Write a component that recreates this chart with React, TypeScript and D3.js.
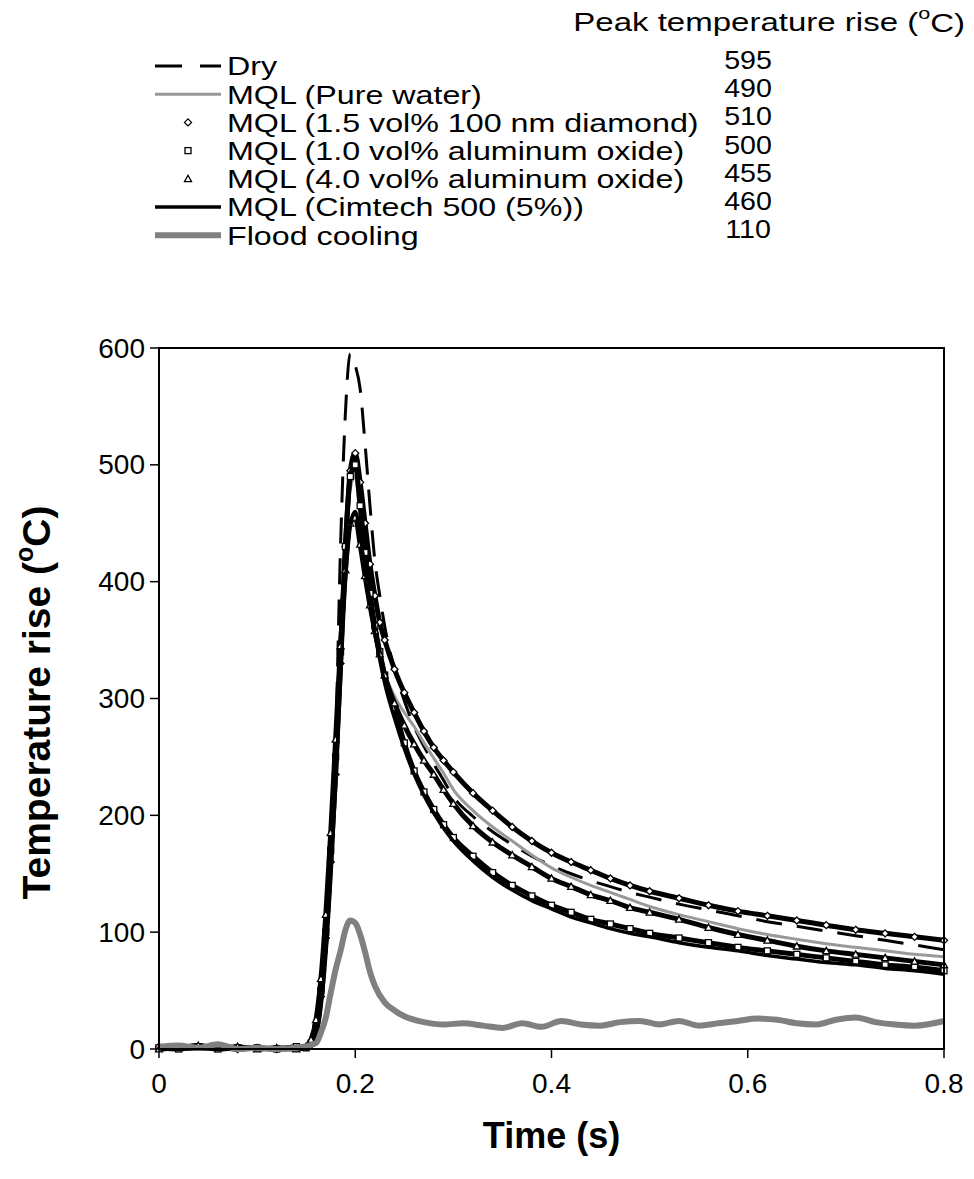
import React from "react";
import * as d3 from "d3";

// time samples (s), shared by the six MQL/dry curves
const times = [
  0, 0.02, 0.04, 0.06, 0.08, 0.1, 0.12, 0.14, 0.15, 0.155, 0.16, 0.165, 0.17, 0.175, 0.18, 0.185, 0.19, 0.195,
  0.2, 0.205, 0.21, 0.215, 0.22, 0.225, 0.23, 0.24, 0.25, 0.26, 0.27, 0.28, 0.29, 0.3, 0.32, 0.34, 0.36, 0.38,
  0.4, 0.42, 0.44, 0.46, 0.48, 0.5, 0.53, 0.56, 0.59, 0.62, 0.65, 0.68, 0.71, 0.74, 0.77, 0.8,
];

const dry = [
  0, 0, 1, 0, 1, 0, 0, 1, 2, 4, 12, 35, 80, 150, 260, 430, 545, 595,
  585, 565, 518, 465, 418, 388, 362, 325, 298, 276, 259, 244, 230, 216, 199, 186, 175, 165,
  157, 150, 144, 139, 134, 130, 124, 119, 114, 109, 105, 101, 97, 93, 89, 85,
];
const pureWater = [
  1, 2, 1, 3, 1, 0, 1, 0, 1, 3, 12, 40, 88, 155, 235, 330, 420, 480,
  490, 455, 418, 385, 358, 338, 322, 302, 288, 276, 262, 249, 236, 222, 204, 190, 178, 166,
  155, 147, 140, 134, 128, 122, 115, 109, 103, 98, 94, 90, 87, 84, 81, 79,
];
const diamond = [
  2, 1, 2, 1, 0, 1, 0, 1, 2, 4, 15, 45, 95, 160, 235, 330, 430, 495,
  510, 485, 450, 415, 388, 365, 350, 325, 305, 288, 272, 258, 247, 237, 219, 204, 190, 178,
  168, 160, 153, 146, 140, 135, 129, 123, 118, 114, 110, 106, 102, 99, 96, 93,
];
const alumina1 = [
  1, 0, 2, 0, 1, 1, 0, 2, 1, 5, 18, 50, 100, 170, 250, 340, 430, 490,
  500, 465, 425, 390, 362, 340, 320, 292, 262, 238, 220, 205, 192, 181, 165, 151, 140, 131,
  123, 117, 111, 107, 103, 99, 95, 91, 87, 84, 81, 78, 75, 72, 70, 67,
];
const alumina4 = [
  0, 1, 3, 1, 2, 0, 1, 0, 2, 8, 25, 60, 115, 185, 265, 345, 410, 450,
  455, 432, 405, 380, 358, 338, 320, 296, 277, 261, 247, 235, 222, 210, 191, 177, 166, 156,
  146, 139, 132, 127, 121, 117, 111, 104, 98, 93, 88, 84, 81, 78, 75, 72,
];
const cimtech = [
  0, 0, 0, 0, 0, 0, 0, 0, 0, 2, 10, 35, 80, 145, 225, 315, 400, 450,
  460, 440, 410, 380, 355, 333, 313, 283, 257, 235, 217, 202, 189, 178, 161, 147, 136, 127,
  120, 113, 108, 103, 99, 96, 91, 87, 84, 80, 77, 74, 72, 69, 67, 64,
];

const floodTimes = [
  0, 0.02, 0.04, 0.06, 0.08, 0.1, 0.12, 0.14, 0.16, 0.165, 0.17, 0.175, 0.18, 0.185, 0.19, 0.195, 0.2,
  0.205, 0.21, 0.215, 0.22, 0.23, 0.24, 0.25, 0.27, 0.29, 0.31, 0.33, 0.35, 0.37, 0.39, 0.41, 0.43, 0.45,
  0.47, 0.49, 0.51, 0.53, 0.55, 0.57, 0.59, 0.61, 0.63, 0.65, 0.67, 0.69, 0.71, 0.73, 0.75, 0.77, 0.8,
];
const flood = [
  2, 3, 1, 4, 0, 1, 0, 1, 5, 14, 27, 48, 68, 84, 102, 110, 108,
  98, 83, 66, 54, 40, 33, 28, 23, 21, 22, 20, 18, 22, 19, 24, 21, 20,
  23, 24, 21, 24, 20, 22, 24, 26, 25, 22, 21, 25, 27, 23, 21, 20, 24,
];

const seriesNames = [
  "Dry",
  "MQL (Pure water)",
  "MQL (1.5 vol% 100 nm diamond)",
  "MQL (1.0 vol% aluminum oxide)",
  "MQL (4.0 vol% aluminum oxide)",
  "MQL (Cimtech 500 (5%))",
  "Flood cooling",
];
const peakRise = ["595", "490", "510", "500", "455", "460", "110"];
const yTicks = [0, 100, 200, 300, 400, 500, 600];
const xTicks = [0, 0.2, 0.4, 0.6, 0.8];

type Style = { kind: "line" | "marker"; color: string; width: number; dash?: string; shape?: string };
const styles: Style[] = [
  { kind: "line", color: "#000", width: 3, dash: "26 15" },
  { kind: "line", color: "#999", width: 3 },
  { kind: "marker", color: "#000", width: 5, shape: "diamond" },
  { kind: "marker", color: "#000", width: 5, shape: "square" },
  { kind: "marker", color: "#000", width: 5, shape: "triangle" },
  { kind: "line", color: "#000", width: 3.5 },
  { kind: "line", color: "#808080", width: 6 },
];

const W = 974;
const H = 1179;
const m = { left: 159, top: 348, right: 944, bottom: 1049 };
const font = "Arial, 'Liberation Sans', sans-serif";

function Marker({ shape, x, y }: { shape: string; x: number; y: number }) {
  const p = { fill: "#fff", stroke: "#000", strokeWidth: 1.3 };
  if (shape === "diamond") return <path d={`M${x},${y - 3.5}L${x + 3.5},${y}L${x},${y + 3.5}L${x - 3.5},${y}Z`} {...p} />;
  if (shape === "square") return <rect x={x - 3} y={y - 3} width={6} height={6} {...p} />;
  return <path d={`M${x},${y - 3.5}L${x + 3.5},${y + 2.8}L${x - 3.5},${y + 2.8}Z`} {...p} />;
}

// text widened horizontally, like the reference
function WideText({ x, y, sx, size, anchor = "start", children }: any) {
  return (
    <text transform={`translate(${x},${y}) scale(${sx},1)`} textAnchor={anchor} dominantBaseline="central" fontSize={size}>
      {children}
    </text>
  );
}

export default function App() {
  const x = d3.scaleLinear().domain([0, 0.8]).range([m.left, m.right]);
  const y = d3.scaleLinear().domain([0, 600]).range([m.bottom, m.top]);

  const series = [dry, pureWater, diamond, alumina1, alumina4, cimtech].map((vals) =>
    vals.map((v, i) => [times[i], v] as [number, number])
  );
  series.push(flood.map((v, i) => [floodTimes[i], v] as [number, number]));

  const line = d3
    .line<[number, number]>()
    .x((d) => x(d[0]))
    .y((d) => y(d[1]))
    .curve(d3.curveMonotoneX);

  const rowY = (i: number) => 66 + i * 28.2;

  return (
    <svg width={W} height={H} style={{ position: "absolute", left: 0, top: 0, background: "#fff" }} fontFamily={font}>
      {/* header of the peak column */}
      <WideText x={965} y={22} sx={1.27} size={26} anchor="end">
        Peak temperature rise (<tspan dy={-9} fontSize={17}>o</tspan>
        <tspan dy={9}>C)</tspan>
      </WideText>

      {/* legend */}
      {seriesNames.map((name, i) => {
        const s = styles[i];
        const ry = rowY(i);
        return (
          <g key={name}>
            {s.kind === "line" ? (
              <line x1={155} x2={221} y1={ry} y2={ry} stroke={s.color} strokeWidth={s.width} strokeDasharray={s.dash ? "27 18" : undefined} />
            ) : (
              <Marker shape={s.shape!} x={188} y={ry} />
            )}
            <WideText x={227} y={ry} sx={1.24} size={26}>
              {name}
            </WideText>
            <WideText x={748} y={ry - 6} sx={1.1} size={26} anchor="middle">
              {peakRise[i]}
            </WideText>
          </g>
        );
      })}

      {/* curves */}
      {series.map((pts, i) => {
        const s = styles[i];
        return (
          <g key={i}>
            <path d={line(pts) || ""} fill="none" stroke={s.color} strokeWidth={s.width} strokeDasharray={s.dash} />
            {s.kind === "marker" && pts.map((d, j) => <Marker key={j} shape={s.shape!} x={x(d[0])} y={y(d[1])} />)}
          </g>
        );
      })}

      {/* frame and axes */}
      <rect x={m.left} y={m.top} width={m.right - m.left} height={m.bottom - m.top} fill="none" stroke="#000" strokeWidth={2} />
      {yTicks.map((t) => (
        <g key={t}>
          <line x1={m.left - 9} x2={m.left} y1={y(t)} y2={y(t)} stroke="#000" strokeWidth={1.5} />
          <text x={m.left - 14} y={y(t)} textAnchor="end" dominantBaseline="central" fontSize={28}>
            {t}
          </text>
        </g>
      ))}
      {xTicks.map((t) => (
        <g key={t}>
          <line x1={x(t)} x2={x(t)} y1={m.bottom} y2={m.bottom + 9} stroke="#000" strokeWidth={1.5} />
          <text x={x(t)} y={m.bottom + 34} textAnchor="middle" dominantBaseline="central" fontSize={28}>
            {d3.format("~g")(t)}
          </text>
        </g>
      ))}
      <text x={(m.left + m.right) / 2} y={1135} textAnchor="middle" dominantBaseline="central" fontSize={36} fontWeight="bold">
        Time (s)
      </text>
      <text transform={`translate(36, ${(m.top + m.bottom) / 2 + 4}) rotate(-90)`} textAnchor="middle" dominantBaseline="central" fontSize={39} fontWeight="bold">
        Temperature rise (<tspan dy={-12} fontSize={25}>o</tspan>
        <tspan dy={12}>C)</tspan>
      </text>
    </svg>
  );
}
